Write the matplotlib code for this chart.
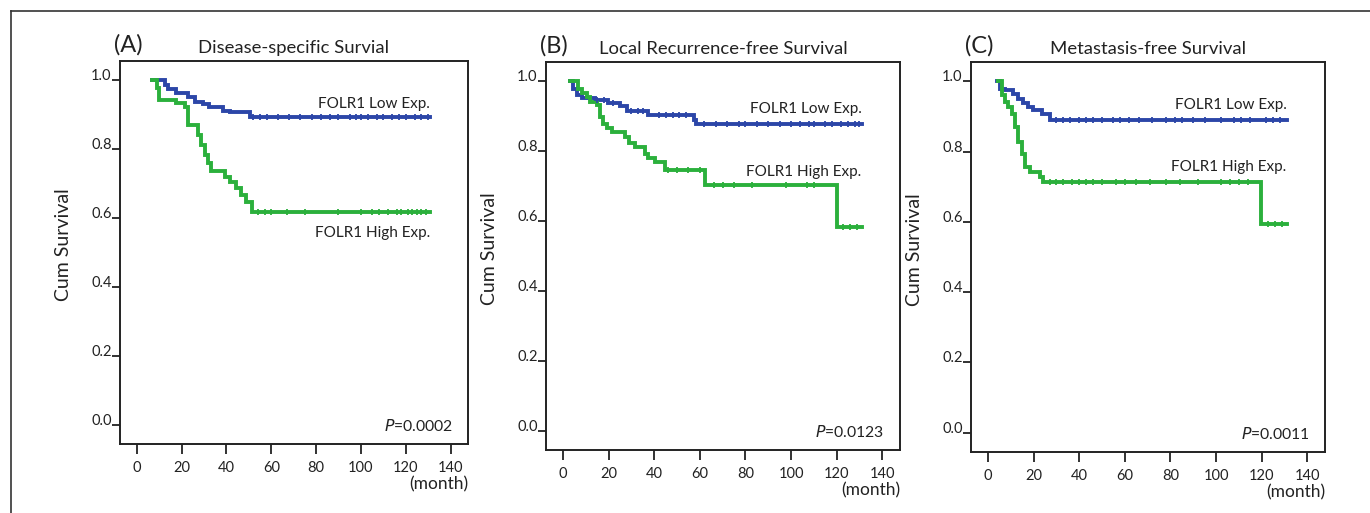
import matplotlib
matplotlib.use('Agg')
import matplotlib.pyplot as plt
from matplotlib.lines import Line2D
import numpy as np

plt.rcParams['font.family'] = ['Lato', 'DejaVu Sans']

BLUE = '#2c46a8'
GREEN = '#2bb03c'
INK = '#222222'

# (A) Disease-specific survival
a_low_t = [7, 12.5, 14, 17.5, 23, 26, 29.5, 32, 38.5, 41.5, 50.5, 131]
a_low_s = [1.0, 0.985, 0.973, 0.961, 0.950, 0.937, 0.929, 0.922, 0.911, 0.907, 0.892, 0.892]
a_high_t = [7, 8.8, 10, 17.7, 21.4, 23, 27.3, 28.8, 30.3, 31.8, 33.3, 39.2, 41.5, 44.4, 46.7, 48.9, 51.6, 131]
a_high_s = [1.0, 0.976, 0.942, 0.932, 0.923, 0.870, 0.841, 0.812, 0.783, 0.758, 0.735, 0.720, 0.705, 0.686, 0.667, 0.647, 0.617, 0.617]
a_low_cens = [52, 55, 58, 63, 68, 73, 78, 82, 86, 90, 95, 98, 100, 103, 107, 110, 114, 117, 120, 124, 127, 130]
a_high_cens = [54, 57, 60, 67, 75, 90, 100, 105, 108, 112, 116, 118, 121, 123, 125, 127, 129]

# (B) Local recurrence-free survival
b_low_t = [3, 4.5, 6, 8.2, 14, 19.9, 25, 28, 37.4, 57.5, 58.5, 131]
b_low_s = [1.0, 0.979, 0.960, 0.953, 0.946, 0.939, 0.929, 0.915, 0.903, 0.889, 0.878, 0.878]
b_high_t = [3, 6.7, 8.2, 10.4, 11.9, 14.8, 16.2, 17.7, 19.2, 21.4, 27.2, 28.7, 31.6, 36, 37.4, 40.4, 44.8, 62.3, 120, 131]
b_high_s = [1.0, 0.979, 0.965, 0.955, 0.941, 0.932, 0.898, 0.879, 0.865, 0.855, 0.840, 0.822, 0.812, 0.793, 0.779, 0.770, 0.746, 0.703, 0.584, 0.584]
b_low_cens = [15, 18, 22, 30, 33, 35, 42, 45, 48, 51, 54, 62, 67, 72, 77, 80, 85, 90, 95, 100, 104, 108, 110, 115, 118, 122, 125, 128, 130]
b_high_cens = [46, 50, 55, 60, 66, 70, 75, 83, 98, 107, 110, 123, 126, 129]

# (C) Metastasis-free survival
c_low_t = [3.8, 5.3, 7.5, 11.1, 13.3, 15.5, 17.7, 19.9, 23.6, 27.2, 131]
c_low_s = [1.0, 0.979, 0.975, 0.965, 0.951, 0.937, 0.927, 0.918, 0.908, 0.891, 0.891]
c_high_t = [4.5, 6, 7.5, 8.9, 10.4, 11.9, 13.3, 14.8, 16.2, 18.4, 22.8, 24.3, 119.7, 131]
c_high_s = [1.0, 0.96, 0.941, 0.927, 0.908, 0.87, 0.827, 0.793, 0.755, 0.741, 0.727, 0.714, 0.593, 0.593]
c_low_cens = [30, 33, 36, 40, 43, 46, 50, 55, 58, 62, 66, 72, 78, 82, 85, 90, 95, 102, 108, 111, 115, 122, 125, 128]
c_high_cens = [27, 30, 33, 37, 40, 43, 46, 50, 56, 60, 65, 71, 78, 84, 92, 102, 106, 110, 114, 123, 126, 129]

panel_letters = ['(A)', '(B)', '(C)']
panel_titles = ['Disease-specific Survial', 'Local Recurrence-free Survival', 'Metastasis-free Survival']
p_values = ['0.0002', '0.0123', '0.0011']
x_ticks = [0, 20, 40, 60, 80, 100, 120, 140]
y_ticks = [0.0, 0.2, 0.4, 0.6, 0.8, 1.0]
low_label = 'FOLR1 Low Exp.'
high_label = 'FOLR1 High Exp.'

panels = [
  (a_low_t, a_low_s, a_low_cens, a_high_t, a_high_s, a_high_cens),
  (b_low_t, b_low_s, b_low_cens, b_high_t, b_high_s, b_high_cens),
  (c_low_t, c_low_s, c_low_cens, c_high_t, c_high_s, c_high_cens),
]
# label baselines (survival units)
low_label_y = [0.919, 0.909, 0.920]
high_label_y = [0.545, 0.729, 0.744]

# axes boxes in pixels: left, top, right, bottom
boxes = [(120, 61, 468, 444), (546, 62, 900, 450), (971, 62, 1325, 452)]

W, H = 1370, 513


def surv_at(t, s, x):
  idx = np.searchsorted(t, x, side='right') - 1
  return np.array(s)[idx]


fig = plt.figure(figsize=(W / 100, H / 100), dpi=100)

# outer frame (only top and left edges are visible in the crop)
fig.add_artist(Line2D([11 / W, 11 / W], [0, 1 - 11 / H], color='#333333', lw=1.2))
fig.add_artist(Line2D([11 / W, 1], [1 - 11 / H, 1 - 11 / H], color='#333333', lw=1.2))

for i in range(3):
  l, t, r, b = boxes[i]
  ax = fig.add_axes([l / W, 1 - b / H, (r - l) / W, (b - t) / H])
  low_t, low_s, low_c, high_t, high_s, high_c = panels[i]

  ax.step(low_t, low_s, where='post', color=BLUE, lw=2.8, solid_joinstyle='miter')
  ax.step(high_t, high_s, where='post', color=GREEN, lw=2.8, solid_joinstyle='miter')
  ax.plot(low_c, surv_at(low_t, low_s, low_c), '+', color=BLUE, ms=5, mew=1.3)
  ax.plot(high_c, surv_at(high_t, high_s, high_c), '+', color=GREEN, ms=5, mew=1.3)

  ax.set_xlim(-7.5, 147.8)
  ax.set_ylim(-0.055, 1.055)
  ax.set_xticks(x_ticks)
  ax.set_yticks(y_ticks)
  ax.set_yticklabels(['{:.1f}'.format(v) for v in y_ticks], va='baseline')
  ax.tick_params(axis='both', direction='out', width=1.3, color=INK, labelcolor=INK, labelsize=10.5)
  ax.tick_params(axis='x', length=7, pad=5)
  ax.tick_params(axis='y', length=6, pad=0)
  for sp in ax.spines.values():
    sp.set_linewidth(1.4)
    sp.set_color(INK)

  ax.set_ylabel('Cum Survival', fontsize=14, color=INK)
  ax.yaxis.set_label_coords(-48 / (r - l), 0.52)

  ax.text(low_t[-1], low_label_y[i], low_label, ha='right', va='baseline', fontsize=11, color=INK)
  ax.text(high_t[-1], high_label_y[i], high_label, ha='right', va='baseline', fontsize=11, color=INK)
  ax.text(141, -0.018, r'$\it{P}$' + '=' + p_values[i], ha='right', va='baseline', fontsize=11.3, color=INK)

  ax.annotate('(month)', xy=(1.0, 0.0), xycoords='axes fraction', xytext=(0, -29),
              textcoords='offset points', ha='right', va='center', fontsize=12.5, color=INK)
  ax.annotate(panel_letters[i], xy=(0.0, 1.0), xycoords='axes fraction', xytext=(-4.5, 12),
              textcoords='offset points', ha='left', va='center', fontsize=17, color=INK)
  ax.set_title(panel_titles[i], fontsize=13.3, color=INK, pad=6)

fig.savefig('out.png', dpi=100)
